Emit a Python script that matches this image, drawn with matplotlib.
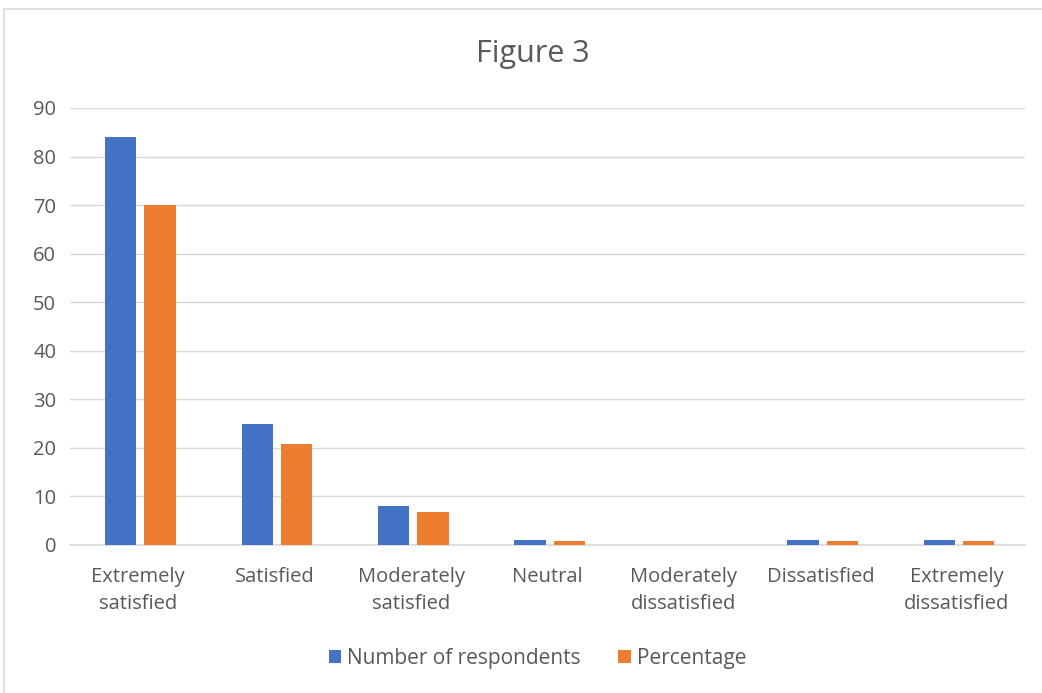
import numpy as np
import matplotlib.pyplot as plt
from matplotlib.patches import Rectangle

categories = ["Extremely\nsatisfied", "Satisfied", "Moderately\nsatisfied", "Neutral",
              "Moderately\ndissatisfied", "Dissatisfied", "Extremely\ndissatisfied"]
respondents = [84, 25, 8, 1, 0, 1, 1]
percentage = [70, 20.8, 6.7, 0.8, 0, 0.8, 0.8]

plt.rcParams['font.family'] = ['Open Sans', 'DejaVu Sans']
text_color = '#595959'

fig = plt.figure(figsize=(10.42, 6.93), dpi=100)
ax = fig.add_axes([0.0672, 0.2136, 0.9165, 0.6306])

# chart border
fig.patches.append(Rectangle((0.004, -0.01), 1.1, 0.997, transform=fig.transFigure,
                             fill=False, edgecolor='#d9d9d9', linewidth=1.2))

x = np.arange(len(categories))
w = 0.23
ax.bar(x - 0.128, respondents, w, color='#4472C4', label='Number of respondents', zorder=3)
ax.bar(x + 0.16, percentage, w, color='#ED7D31', label='Percentage', zorder=3)

ax.set_xlim(-0.5, len(categories) - 0.5)
ax.set_ylim(0, 90)
ax.set_yticks(range(0, 91, 10))
ax.set_xticks(x)
ax.set_xticklabels(categories, fontsize=14.5, color=text_color, linespacing=1.45)
ax.tick_params(axis='y', labelsize=14.5, labelcolor=text_color, length=0, pad=10)
ax.tick_params(axis='x', length=0, pad=16)
ax.grid(axis='y', color='#d9d9d9', linewidth=1, zorder=0)
for s in ['top', 'right', 'left']:
    ax.spines[s].set_visible(False)
ax.spines['bottom'].set_color('#d9d9d9')
ax.spines['bottom'].set_linewidth(1.2)

fig.text(0.511, 0.922, "Figure 3", ha='center', va='center', fontsize=22, color=text_color)

fig.legend(loc='center', bbox_to_anchor=(0.516, 0.05), ncol=2, frameon=False,
           fontsize=15, labelcolor=text_color, handlelength=0.6, handleheight=0.6,
           handletextpad=0.3, columnspacing=1.8)

fig.savefig('out.png', dpi=100)
